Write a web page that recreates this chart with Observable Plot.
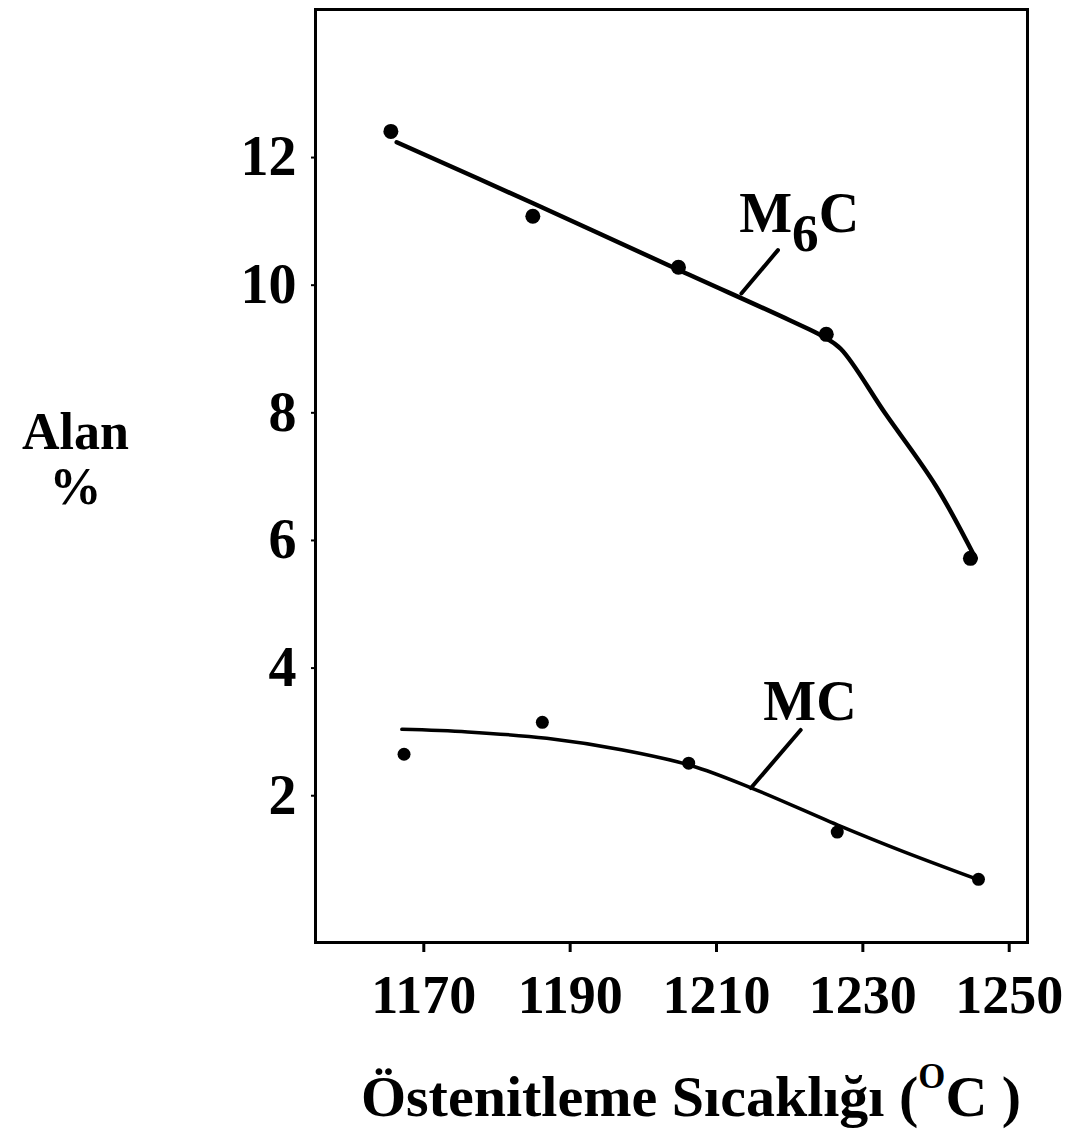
<!DOCTYPE html>
<html><head><meta charset="utf-8">
<script src="https://cdn.jsdelivr.net/npm/d3@7"></script>
<script src="https://cdn.jsdelivr.net/npm/@observablehq/plot@0.6"></script>
<style>
body{margin:0;background:#fff;}
#xtitle{font-family:"Liberation Serif","Times New Roman",serif;font-weight:bold;font-size:58px;line-height:70px;margin-top:19px;padding-left:310px;text-align:center;color:#000;white-space:nowrap;}
#xtitle .sup{font-size:0.6em;position:relative;top:-0.8em;}
</style></head><body>
<div id="chart"></div>
<div id="xtitle">Östenitleme Sıcaklığı (<span class="sup">O</span>C )</div>
<script>
// measured points
const tempsM6C = [1165.5, 1184.9, 1204.8, 1225.0, 1244.7];
const valsM6C  = [12.41, 11.08, 10.28, 9.23, 5.72];
const tempsMC  = [1167.3, 1186.2, 1206.2, 1226.5, 1245.8];
const valsMC   = [2.65, 3.15, 2.51, 1.43, 0.69];
// hand-drawn fit curves
const fitTempsM6C = [1166.3, 1185, 1205, 1220, 1224.5, 1227, 1233, 1240, 1245.4];
const fitValsM6C  = [12.24, 11.28, 10.23, 9.45, 9.2, 9.0, 8.0, 6.85, 5.72];
const fitTempsMC  = [1167, 1176, 1186.8, 1197, 1206.6, 1214.8, 1227, 1235.2, 1245.4];
const fitValsMC   = [3.04, 3.0, 2.9, 2.72, 2.47, 2.12, 1.52, 1.14, 0.7];
// label leaders
const leaderM6C = {t: [1213.4, 1218.4], v: [9.87, 10.55]};
const leaderMC  = {t: [1214.7, 1221.5], v: [2.12, 3.03]};
const seriesLabels = ["M6C", "MC"];
const labelTemps = [1213.1, 1216.4];
const labelVals = [11.11, 3.46];
const xTicks = [1170, 1190, 1210, 1230, 1250];
const yTicks = [2, 4, 6, 8, 10, 12];
const yLabel = "Alan\n%";

const pts = (ts, vs) => ts.map((t, i) => ({t, v: vs[i]}));
const font = '"Liberation Serif","Times New Roman",serif';

const chart = Plot.plot({
  width: 1072, height: 1043,
  marginLeft: 315, marginRight: 45, marginTop: 9, marginBottom: 101,
  x: {domain: [1155.2, 1252.5]},
  y: {domain: [-0.3, 14.32]},
  style: {fontFamily: font, fontWeight: "bold", color: "#000", background: "#fff"},
  marks: [
    Plot.frame({stroke: "#000", strokeWidth: 3}),
    Plot.axisX(xTicks, {tickSize: 10, tickPadding: 22, strokeWidth: 3, fontSize: 54, fontWeight: "bold", tickFormat: d => String(d), label: null}),
    Plot.axisY(yTicks, {tickSize: 4, tickPadding: 15, strokeWidth: 2, fontSize: 56, fontWeight: "bold", tickFormat: d => String(d), label: null}),
    Plot.line(pts(fitTempsM6C, fitValsM6C), {x: "t", y: "v", curve: "catmull-rom", stroke: "#000", strokeWidth: 4.5}),
    Plot.line(pts(fitTempsMC, fitValsMC), {x: "t", y: "v", curve: "catmull-rom", stroke: "#000", strokeWidth: 3.5}),
    Plot.line(pts(leaderM6C.t, leaderM6C.v), {x: "t", y: "v", stroke: "#000", strokeWidth: 4}),
    Plot.line(pts(leaderMC.t, leaderMC.v), {x: "t", y: "v", stroke: "#000", strokeWidth: 4}),
    Plot.dot(pts(tempsM6C, valsM6C), {x: "t", y: "v", r: 7.5, fill: "#000"}),
    Plot.dot(pts(tempsMC, valsMC), {x: "t", y: "v", r: 6.5, fill: "#000"}),
    Plot.text(seriesLabels, {x: (d, i) => labelTemps[i], y: (d, i) => labelVals[i], text: d => d, textAnchor: "start", fontSize: 56, fontWeight: "bold", fill: "#000"}),
    Plot.text([yLabel], {text: d => d, frameAnchor: "left", dx: -240, dy: -17, textAnchor: "middle", lineHeight: 1.05, fontSize: 52, fontWeight: "bold", fill: "#000"})
  ]
});
document.getElementById("chart").appendChild(chart);

// render subscript 6 in M6C
d3.select(chart).selectAll("text").each(function() {
  if (this.textContent === "M6C" && this.childElementCount === 0) {
    const sel = d3.select(this);
    sel.text(null);
    sel.append("tspan").text("M");
    sel.append("tspan").attr("dy", "0.36em").attr("font-size", "0.95em").text("6");
    sel.append("tspan").attr("dy", "-0.34em").text("C");
  }
});
</script>
</body></html>
